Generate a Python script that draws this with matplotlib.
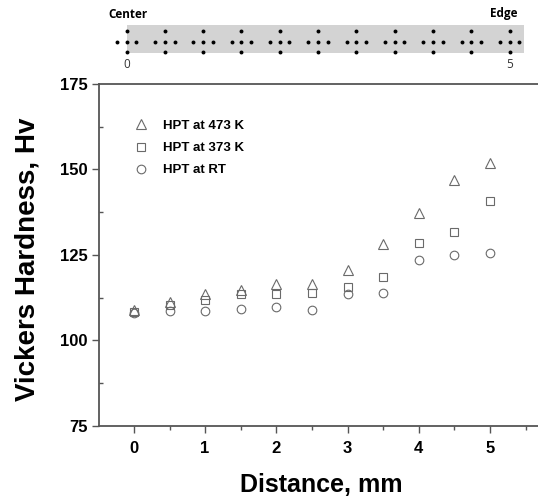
import numpy as np
import matplotlib.pyplot as plt
from matplotlib.ticker import MultipleLocator
from matplotlib.patches import Rectangle

# distance from center, mm
distance = [0, 0.5, 1, 1.5, 2, 2.5, 3, 3.5, 4, 4.5, 5]
hv_473 = [108.8, 111.3, 113.5, 114.7, 116.6, 116.6, 120.7, 128.3, 137.4, 146.9, 151.8]
hv_373 = [108.3, 110.3, 111.7, 113.5, 113.7, 113.9, 115.6, 118.7, 128.4, 131.7, 140.9]
hv_rt = [107.9, 108.5, 108.6, 109.1, 109.8, 109.0, 113.7, 114.0, 123.4, 124.9, 125.5]
labels = ['HPT at 473 K', 'HPT at 373 K', 'HPT at RT']

plt.rcParams['font.family'] = ['Liberation Sans', 'DejaVu Sans']

fig = plt.figure(figsize=(5.38, 5.0), dpi=100)
W, H = 538, 500

# ---- main chart
ax = fig.add_axes([99 / W, 1 - 426 / H, 1 - 99 / W + 0.01, (426 - 84) / H])
mk = dict(linestyle='none', markerfacecolor='none', markeredgecolor='#6a6a6a', markeredgewidth=0.8)
l1, = ax.plot(distance, hv_473, marker='^', markersize=7, **mk)
l2, = ax.plot(distance, hv_373, marker='s', markersize=5.5, **mk)
l3, = ax.plot(distance, hv_rt, marker='o', markersize=6.2, **mk)

ax.set_xlim(-0.49, 5.75)
ax.set_ylim(75, 175)
ax.xaxis.set_major_locator(MultipleLocator(1))
ax.xaxis.set_minor_locator(MultipleLocator(0.5))
ax.yaxis.set_major_locator(MultipleLocator(25))
ax.yaxis.set_minor_locator(MultipleLocator(12.5))
ax.tick_params(axis='x', which='major', direction='out', length=5, width=1, color='#555', pad=6)
ax.tick_params(axis='x', which='minor', direction='out', length=3, width=1, color='#555')
ax.tick_params(axis='y', which='major', direction='out', length=5, width=1, color='#555', pad=3)
ax.tick_params(axis='y', which='minor', direction='in', length=3, width=1, color='#555')
for lab in ax.get_xticklabels() + ax.get_yticklabels():
    lab.set_fontsize(12)
    lab.set_fontweight('bold')
ax.spines['right'].set_visible(False)
for s in ['left', 'bottom', 'top']:
    ax.spines[s].set_color('#555')
    ax.spines[s].set_linewidth(1.3)

ax.set_xlabel('Distance, mm', fontsize=18, fontweight='bold', labelpad=12)
ax.set_ylabel('Vickers Hardness, Hv', fontsize=20, fontweight='bold')
ax.yaxis.set_label_coords(-0.131, 0.488)

leg = ax.legend([l1, l2, l3], labels, loc='upper left', bbox_to_anchor=(0.05, 0.93),
                frameon=False, prop={'weight': 'bold', 'size': 9.5},
                handletextpad=1.1, labelspacing=0.75, handlelength=1.2)

# ---- sample schematic strip on top
pos = np.array(distance)
ax2 = fig.add_axes([0, 1 - 75 / H, 1, 75 / H])
px_per_unit = (509.5 - 126.5) / 5
ax2.set_xlim(-126.5 / px_per_unit, (W - 126.5) / px_per_unit)
ax2.set_ylim(75, 0)
ax2.axis('off')
ax2.add_patch(Rectangle((0, 25), 5.19, 28, facecolor='#d3d3d3', edgecolor='none'))
arm = 9.7 / px_per_unit
ax2.scatter(np.concatenate([pos, pos, pos, pos - arm, pos + arm]),
            np.concatenate([np.full(11, 31.0), np.full(11, 41.7), np.full(11, 52.0),
                            np.full(11, 41.7), np.full(11, 41.7)]),
            s=8, color='black', linewidths=0)
sfont = ['Open Sans', 'DejaVu Sans']
ax2.text(-0.24, 15, 'Center', fontsize=8.5, fontweight='bold', family=sfont,
         ha='left', va='center')
ax2.text(4.93, 13, 'Edge', fontsize=8.5, fontweight='bold', family=sfont,
         ha='center', va='center')
ax2.text(0, 65, '0', fontsize=8.5, color='#333', family=sfont, ha='center', va='center')
ax2.text(5, 65, '5', fontsize=8.5, color='#333', family=sfont, ha='center', va='center')

fig.savefig('out.png', dpi=100)
